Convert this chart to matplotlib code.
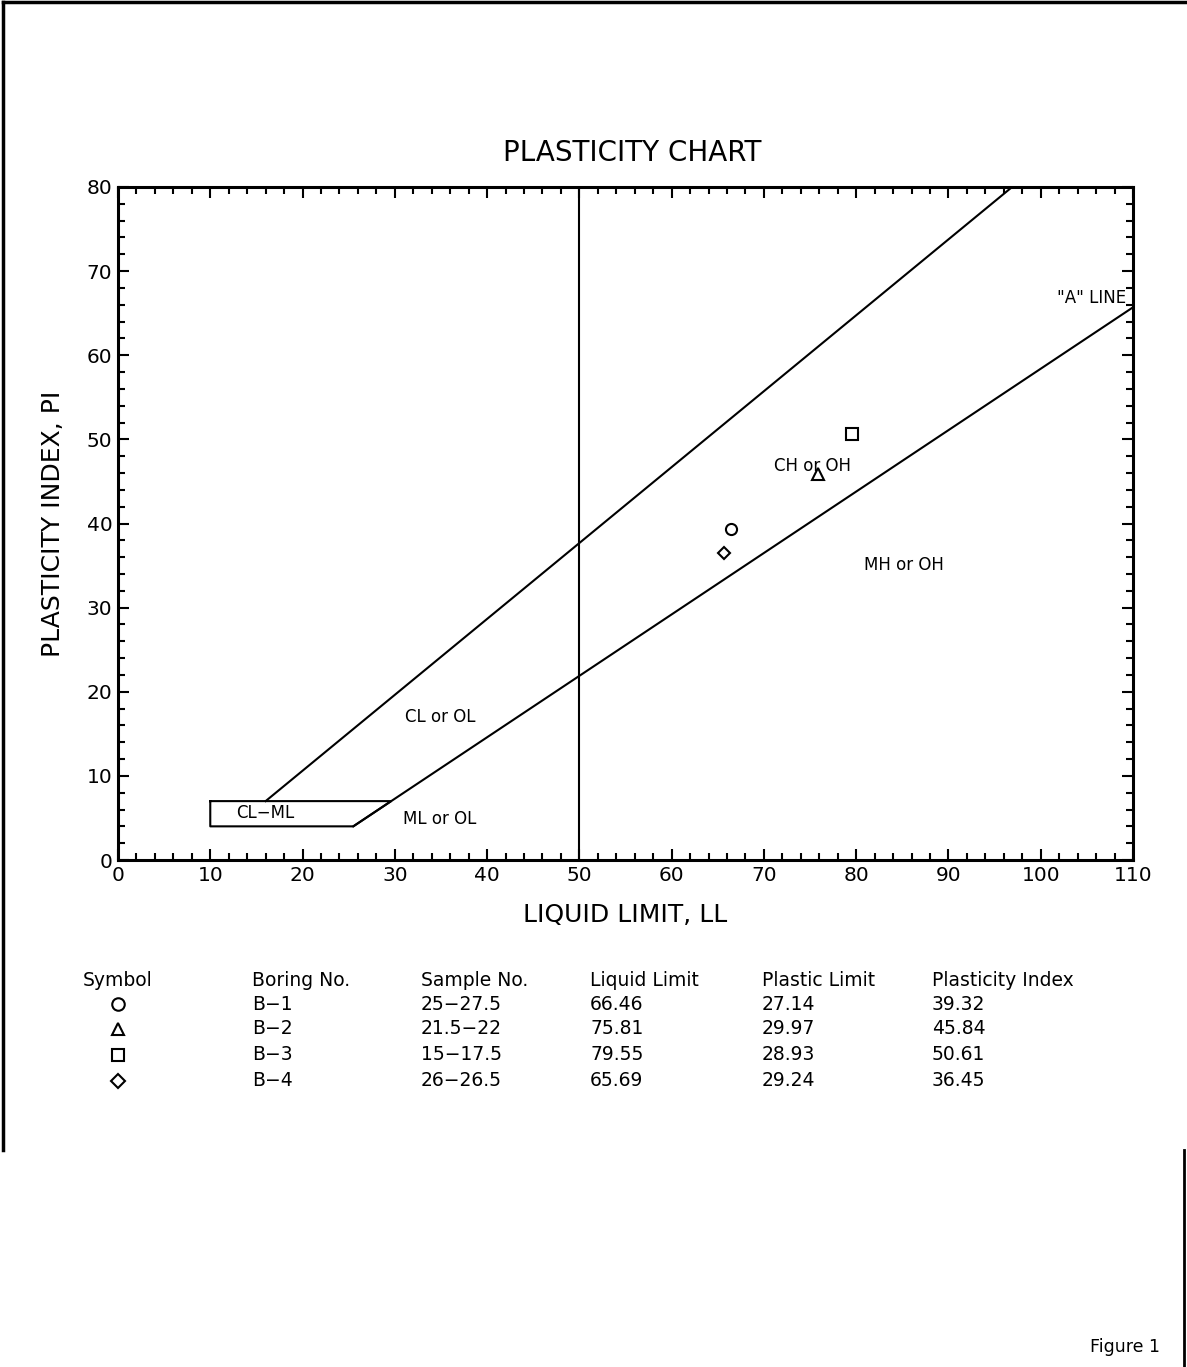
#!/usr/bin/env python3
# -*- coding: utf-8 -*

import matplotlib
matplotlib.use("Agg")
import matplotlib.pyplot as plt
from matplotlib.ticker import MultipleLocator

# test results
SYMBOLS = ["o", "^", "s", "D"]
BORINGS = ["B-1", "B-2", "B-3", "B-4"]
SAMPLES = ["25-27.5", "21.5-22", "15-17.5", "26-26.5"]
LIQUID_LIMIT = [66.46, 75.81, 79.55, 65.69]
PLASTIC_LIMIT = [27.14, 29.97, 28.93, 29.24]
PLASTICITY_INDEX = [39.32, 45.84, 50.61, 36.45]

# chart boundary lines (end points)
U_LINE_LL = [16, 96.9]
U_LINE_PI = [7, 80]
A_LINE_LL = [25.5, 110]
A_LINE_PI = [4, 65.7]
CLML_LL = [10, 29.6, 25.5, 10, 10]
CLML_PI = [7, 7, 4, 4, 7]
LL_50 = [50, 50]
LL_50_PI = [0, 80]

ZONE_LABELS = ["CL or OL", "ML or OL", "CH or OH", "MH or OH", "CL\u2212ML"]
ZONE_LL = [34.9, 34.9, 75.3, 85.2, 16.0]
ZONE_PI = [17.0, 4.9, 46.8, 35.1, 5.6]

HEADERS = ["Symbol", "Boring No.", "Sample No.", "Liquid Limit", "Plastic Limit", "Plasticity Index"]

W, H = 1187, 1367
LW = 1.5
BLACK = "black"

plt.rcParams["font.family"] = ["DejaVu Sans"]

fig = plt.figure(figsize=(W / 100, H / 100), dpi=100)

# page overlay in pixel coordinates (border + table)
page = fig.add_axes([0, 0, 1, 1])
page.set_xlim(0, W)
page.set_ylim(H, 0)
page.axis("off")
page.plot([3, W], [2, 2], color=BLACK, lw=2.5)
page.plot([3, 3], [2, 1150], color=BLACK, lw=2.5)
page.plot([1184, 1184], [1150, H], color=BLACK, lw=2)

ax = fig.add_axes([118 / W, 1 - 860 / H, 1015 / W, 673 / H])
ax.set_xlim(0, 110)
ax.set_ylim(0, 80)

ax.plot(U_LINE_LL, U_LINE_PI, color=BLACK, lw=LW)
ax.plot(A_LINE_LL, A_LINE_PI, color=BLACK, lw=LW)
ax.plot(CLML_LL, CLML_PI, color=BLACK, lw=LW)
ax.plot(LL_50, LL_50_PI, color=BLACK, lw=LW)

for ll, pi, m in zip(LIQUID_LIMIT, PLASTICITY_INDEX, SYMBOLS):
    ax.plot(ll, pi, marker=m, ms=8 if m != "D" else 6, mfc="white", mec=BLACK,
            mew=1.5, linestyle="none", zorder=3)

for text, ll, pi in zip(ZONE_LABELS, ZONE_LL, ZONE_PI):
    ax.text(ll, pi, text, ha="center", va="center", fontsize=12)
ax.text(109.3, 66.8, '"A" LINE', ha="right", va="center", fontsize=12)

ax.xaxis.set_major_locator(MultipleLocator(10))
ax.xaxis.set_minor_locator(MultipleLocator(2))
ax.yaxis.set_major_locator(MultipleLocator(10))
ax.yaxis.set_minor_locator(MultipleLocator(2))
ax.tick_params(which="both", direction="in", top=True, right=True, width=1.5,
               labelsize=14.5, pad=4)
ax.tick_params(which="major", length=8)
ax.tick_params(which="minor", length=5)
for sp in ax.spines.values():
    sp.set_linewidth(2.2)

ax.set_xlabel("LIQUID LIMIT, LL", fontsize=18, va="center")
ax.xaxis.set_label_coords(0.5, (860 - 915) / 673)
ax.set_ylabel("PLASTICITY INDEX, PI", fontsize=18, va="center")
ax.yaxis.set_label_coords((53 - 118) / 1015, 0.5)

fig.text(632 / W, 1 - 153 / H, "PLASTICITY CHART", ha="center", va="center", fontsize=20)

# data table below the chart
col_x = [83, 252, 421, 590, 762, 932]
header_y = 980
row_y = [1004, 1029, 1055, 1081]
for x, h in zip(col_x, HEADERS):
    page.text(x, header_y, h, ha="left", va="center", fontsize=13.5)
for i, y in enumerate(row_y):
    page.plot(118, y, marker=SYMBOLS[i], ms=9 if SYMBOLS[i] != "D" else 7,
              mfc="white", mec=BLACK, mew=1.5, linestyle="none")
    vals = [BORINGS[i].replace("-", "\u2212"), SAMPLES[i].replace("-", "\u2212"),
            "%.2f" % LIQUID_LIMIT[i], "%.2f" % PLASTIC_LIMIT[i], "%.2f" % PLASTICITY_INDEX[i]]
    for x, v in zip(col_x[1:], vals):
        page.text(x, y, v, ha="left", va="center", fontsize=13.5)

page.text(1160, 1347, "Figure 1", ha="right", va="center", fontsize=12.5)

fig.savefig("out.png", dpi=100)
